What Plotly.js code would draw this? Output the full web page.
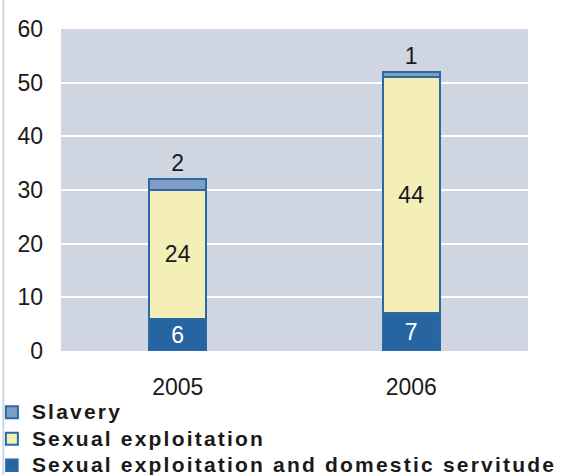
<!DOCTYPE html>
<html>
<head>
<meta charset="utf-8">
<script src="https://cdn.plot.ly/plotly-3.0.1.min.js"></script>
<style>
html, body { margin: 0; padding: 0; background: #ffffff; }
#chart { width: 563px; height: 475px; }
.legendtext { font-size: 21px !important; letter-spacing: 2.2px; }
</style>
</head>
<body>
<div id="chart"></div>
<script>
var years = ['2005', '2006'];
var domesticServitude = [6, 7];
var sexualExploitation = [24, 44];
var slavery = [2, 1];
var seriesNames = ['Sexual exploitation and domestic servitude', 'Sexual exploitation', 'Slavery'];
var yTicks = [0, 10, 20, 30, 40, 50, 60];

var FONT = 'Arial, "Liberation Sans", sans-serif';
var edge = '#2c68a4';

var traces = [
  {
    type: 'bar', name: seriesNames[0], x: years, y: domesticServitude,
    marker: { color: '#2764a2', line: { color: edge, width: 1.5 } },
    text: domesticServitude.map(String), textposition: 'inside', insidetextanchor: 'middle',
    textfont: { family: FONT, size: 23, color: '#ffffff' }, hoverinfo: 'skip'
  },
  {
    type: 'bar', name: seriesNames[1], x: years, y: sexualExploitation,
    marker: { color: '#f3efb7', line: { color: edge, width: 2 } },
    text: sexualExploitation.map(String), textposition: 'inside', insidetextanchor: 'middle',
    textfont: { family: FONT, size: 23, color: '#1a1a1a' }, hoverinfo: 'skip'
  },
  {
    type: 'bar', name: seriesNames[2], x: years, y: slavery,
    marker: { color: '#7f9fc9', line: { color: edge, width: 2 } },
    text: slavery.map(String), textposition: 'outside', cliponaxis: false,
    textfont: { family: FONT, size: 23, color: '#1a1a1a' }, hoverinfo: 'skip'
  }
];

var layout = {
  width: 563, height: 475,
  margin: { l: 61, r: 35, t: 29, b: 124, autoexpand: false },
  paper_bgcolor: '#ffffff',
  plot_bgcolor: '#cfd6e1',
  barmode: 'stack',
  bargap: 0.755,
  font: { family: FONT, size: 23, color: '#1a1a1a' },
  xaxis: {
    type: 'category', showgrid: false, zeroline: false, showline: false,
    ticks: '', ticklabelstandoff: 20,
    tickfont: { family: FONT, size: 23, color: '#1a1a1a' }
  },
  yaxis: {
    range: [0, 60], tickvals: yTicks, showgrid: true, gridcolor: '#ffffff', gridwidth: 2,
    zeroline: false, showline: false, ticks: '', ticklabelstandoff: 17,
    tickfont: { family: FONT, size: 23, color: '#1a1a1a' }
  },
  showlegend: true,
  legend: {
    orientation: 'v', traceorder: 'reversed',
    x: -0.148, xanchor: 'left', y: -0.134, yanchor: 'top',
    bgcolor: 'rgba(0,0,0,0)', itemwidth: 30,
    font: { family: FONT, size: 18, color: '#1a1a1a', weight: 'bold' },
    itemclick: false, itemdoubleclick: false
  },
  shapes: [
    { type: 'line', xref: 'paper', yref: 'paper', x0: -0.1235, x1: -0.1235, y0: -0.4, y1: 1.1,
      line: { color: '#cdd7e6', width: 2 }, layer: 'below' }
  ]
};

Plotly.newPlot('chart', traces, layout, { displayModeBar: false, staticPlot: true });
</script>
</body>
</html>
